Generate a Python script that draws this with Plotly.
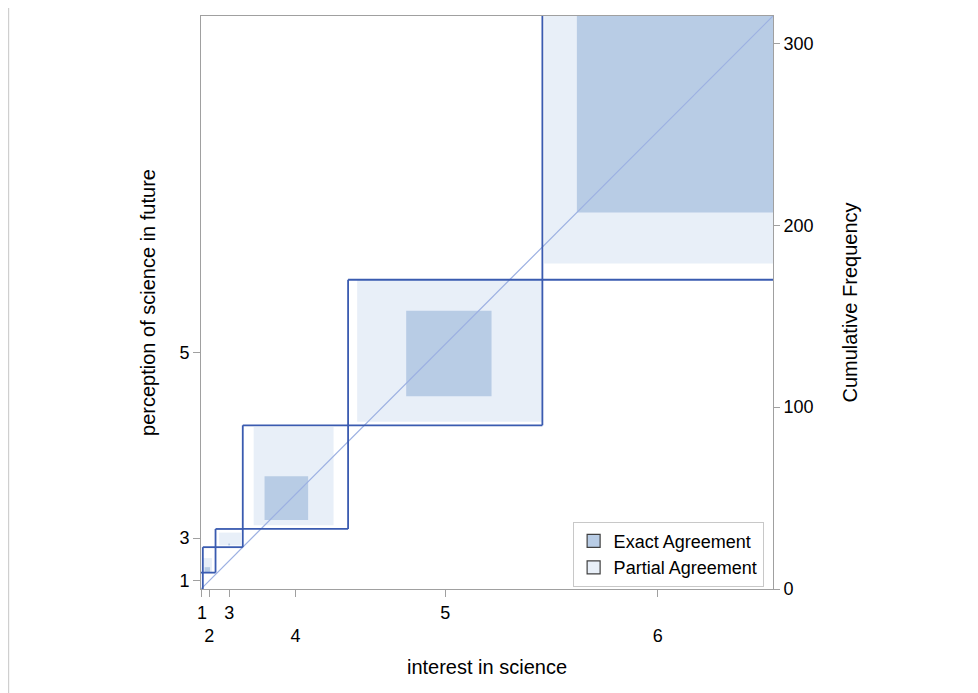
import numpy as np
import plotly.graph_objects as go

# ---- data ----
categories = ["1", "2", "3", "4", "5", "6"]
col_totals = [1, 7, 15, 58, 107, 127]      # interest in science (x)
row_totals = [9, 14, 10, 57, 80, 145]      # perception of science in future (y)
exact_counts = [0, 3, 1, 24, 47, 108]
exact_x_offset = [0, 1, 7, 12, 32, 19]
exact_y_offset = [0, 0, 1, 5, 16, 37]
partial_x_offset = [0, 0, 2, 6, 5, 1]
partial_x_width = [0, 5, 12, 44, 102, 126]
partial_y_offset = [0, 0, 1, 2, 2, 9]
partial_y_height = [0, 8, 7, 54, 78, 136]
right_ticks = [0, 100, 200, 300]
y_label_cats = ["1", "3", "5"]

N = sum(col_totals)
col_start = np.concatenate([[0], np.cumsum(col_totals)[:-1]])
row_start = np.concatenate([[0], np.cumsum(row_totals)[:-1]])

DARK = "#B8CCE5"
LIGHT = "#E8EFF8"
OUTLINE = "#3A5BB0"
FONT = "Liberation Sans, Arial, sans-serif"
AXC = "#A0A0A0"


def rect(x0, x1, y0, y1):
    return [x0, x1, x1, x0, x0], [y0, y0, y1, y1, y0]


fig = go.Figure()

# partial agreement
for i in range(len(categories)):
    if partial_x_width[i] <= 0:
        continue
    x0 = col_start[i] + partial_x_offset[i]
    y0 = row_start[i] + partial_y_offset[i]
    xs, ys = rect(x0, x0 + partial_x_width[i], y0, y0 + partial_y_height[i])
    fig.add_trace(go.Scatter(x=xs, y=ys, mode="lines", fill="toself",
                             fillcolor=LIGHT, line=dict(width=0, color=LIGHT),
                             showlegend=False, hoverinfo="skip"))

# exact agreement
for i in range(len(categories)):
    if exact_counts[i] <= 0:
        continue
    x0 = col_start[i] + exact_x_offset[i]
    y0 = row_start[i] + exact_y_offset[i]
    xs, ys = rect(x0, x0 + exact_counts[i], y0, y0 + exact_counts[i])
    fig.add_trace(go.Scatter(x=xs, y=ys, mode="lines", fill="toself",
                             fillcolor=DARK, line=dict(width=0, color=DARK),
                             showlegend=False, hoverinfo="skip"))

# diagonal reference
fig.add_trace(go.Scatter(x=[0, N], y=[0, N], mode="lines",
                         line=dict(color="#9CB0E2", width=1.2),
                         showlegend=False, hoverinfo="skip"))

# outlines of the diagonal rectangles (edges lying on the frame are left to the frame)
seg_x, seg_y = [], []
for i in range(len(categories)):
    x0, x1 = col_start[i], col_start[i] + col_totals[i]
    y0, y1 = row_start[i], row_start[i] + row_totals[i]
    edges = [((x0, y0), (x1, y0)), ((x1, y0), (x1, y1)),
             ((x1, y1), (x0, y1)), ((x0, y1), (x0, y0))]
    for (ax, ay), (bx, by) in edges:
        on_frame = (ax == bx and ax in (0, N)) or (ay == by and ay in (0, N))
        if on_frame:
            continue
        seg_x += [ax, bx, None]
        seg_y += [ay, by, None]
fig.add_trace(go.Scatter(x=seg_x, y=seg_y, mode="lines",
                         line=dict(color=OUTLINE, width=1.8),
                         showlegend=False, hoverinfo="skip"))

# legend entries
fig.add_trace(go.Scatter(x=[None], y=[None], mode="markers", name="Exact Agreement",
                         marker=dict(symbol="square", size=13, color=DARK,
                                     line=dict(color="#404040", width=1.2))))
fig.add_trace(go.Scatter(x=[None], y=[None], mode="markers", name="Partial Agreement",
                         marker=dict(symbol="square", size=13, color=LIGHT,
                                     line=dict(color="#404040", width=1.2))))

# dummy for right axis
fig.add_trace(go.Scatter(x=[None], y=[None], yaxis="y2", showlegend=False,
                         hoverinfo="skip"))

col_centers = [col_start[i] + col_totals[i] / 2 for i in range(len(categories))]
x_ticktext = [c if k % 2 == 0 else "<br>" + c for k, c in enumerate(categories)]
y_tickvals = [row_start[categories.index(c)] + row_totals[categories.index(c)] / 2
              for c in y_label_cats]

fig.update_layout(
    width=978, height=693,
    margin=dict(l=193, r=213, t=8, b=112),
    paper_bgcolor="white", plot_bgcolor="white",
    font=dict(family=FONT, size=18, color="#000"),
    xaxis=dict(range=[0, N], tickmode="array", tickvals=col_centers,
               ticktext=x_ticktext, tickangle=0, ticks="outside", ticklen=7,
               tickcolor=AXC,
               showline=True, linecolor=AXC, linewidth=1, mirror=True,
               showgrid=False, zeroline=False,
               tickfont=dict(size=18),
               title=dict(text="interest in science", font=dict(size=20), standoff=14)),
    yaxis=dict(range=[0, N], tickmode="array", tickvals=y_tickvals,
               ticktext=y_label_cats, ticks="outside", ticklen=7, tickcolor=AXC,
               showline=True, linecolor=AXC, linewidth=1, mirror=True,
               showgrid=False, zeroline=False,
               tickfont=dict(size=18),
               title=dict(text="perception of science in future", font=dict(size=20),
                          standoff=18)),
    yaxis2=dict(range=[0, N], overlaying="y", side="right", tickmode="array",
                tickvals=right_ticks, ticks="outside", ticklen=6, tickcolor=AXC,
                showline=True, linecolor=AXC, showgrid=False, zeroline=False,
                tickfont=dict(size=18),
                title=dict(text="Cumulative Frequency", font=dict(size=20), standoff=30)),
    legend=dict(x=0.9836, y=0.004, xanchor="right", yanchor="bottom",
                bordercolor="#C8C8C8", borderwidth=1, bgcolor="white",
                font=dict(size=18), itemwidth=30, tracegroupgap=0),
    shapes=[dict(type="line", xref="paper", yref="paper", x0=-0.3375, x1=-0.3375,
                 y0=-0.2, y1=1.04, line=dict(color="#CFCFCF", width=2.5))],
)

fig.write_html("out.html")
